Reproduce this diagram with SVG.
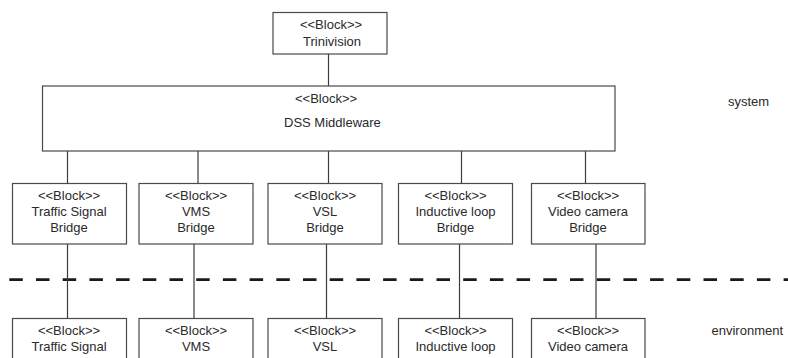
<svg xmlns="http://www.w3.org/2000/svg" width="788" height="358" viewBox="0 0 788 358">
  <style>
    .box { fill: #ffffff; stroke: #4a4a4a; stroke-width: 1.2; }
    .lbl { font-family: "Liberation Sans", Arial, sans-serif; font-size: 13px; fill: #2a2a2a; text-anchor: middle; }
    .side { font-family: "Liberation Sans", Arial, sans-serif; font-size: 13px; fill: #2a2a2a; }
    .wire { stroke: #3c3c3c; stroke-width: 1.2; fill: none; }
    .boundary { stroke: #1a1a1a; stroke-width: 2.8; stroke-dasharray: 13.5 13.2; fill: none; }
  </style>
  <rect width="788" height="358" fill="#ffffff"/>

  <!-- system / environment boundary -->
  <line class="boundary" x1="9.3" y1="279.7" x2="788" y2="279.7"/>

  <!-- connectors -->
  <g id="connectors">
    <line class="wire" x1="328.5" y1="54" x2="328.5" y2="86"/>
    <line class="wire" x1="67.5" y1="151" x2="67.5" y2="183"/>
    <line class="wire" x1="198" y1="151" x2="198" y2="183"/>
    <line class="wire" x1="328.5" y1="151" x2="328.5" y2="183"/>
    <line class="wire" x1="461.5" y1="151" x2="461.5" y2="183"/>
    <line class="wire" x1="585.5" y1="151" x2="585.5" y2="183"/>
    <line class="wire" x1="67.5" y1="244" x2="67.5" y2="318"/>
    <line class="wire" x1="194" y1="244" x2="194" y2="318"/>
    <line class="wire" x1="326.5" y1="244" x2="326.5" y2="318"/>
    <line class="wire" x1="459.5" y1="244" x2="459.5" y2="318"/>
    <line class="wire" x1="596" y1="244" x2="596" y2="318"/>
  </g>

  <g id="trinivision">
    <rect class="box" x="273" y="12.5" width="114" height="41.5"/>
    <text class="lbl" x="331" y="29">&lt;&lt;Block&gt;&gt;</text>
    <text class="lbl" x="332" y="46">Trinivision</text>
  </g>

  <g id="dss-middleware">
    <rect class="box" x="42.5" y="86" width="572.5" height="65"/>
    <text class="side" x="295" y="103">&lt;&lt;Block&gt;&gt;</text>
    <text class="side" x="284" y="126.5">DSS Middleware</text>
  </g>

  <!-- bridges -->
  <g id="traffic-signal-bridge">
    <rect class="box" x="12.5" y="183.5" width="114" height="60.5"/>
    <text class="lbl" x="69" y="200">&lt;&lt;Block&gt;&gt;</text>
    <text class="lbl" x="69" y="216">Traffic Signal</text>
    <text class="lbl" x="69" y="232">Bridge</text>
  </g>
  <g id="vms-bridge">
    <rect class="box" x="139" y="183.5" width="114" height="60.5"/>
    <text class="lbl" x="196" y="200">&lt;&lt;Block&gt;&gt;</text>
    <text class="lbl" x="196" y="216">VMS</text>
    <text class="lbl" x="196" y="232">Bridge</text>
  </g>
  <g id="vsl-bridge">
    <rect class="box" x="268" y="183.5" width="114" height="60.5"/>
    <text class="lbl" x="325" y="200">&lt;&lt;Block&gt;&gt;</text>
    <text class="lbl" x="325" y="216">VSL</text>
    <text class="lbl" x="325" y="232">Bridge</text>
  </g>
  <g id="inductive-loop-bridge">
    <rect class="box" x="398.5" y="183.5" width="114" height="60.5"/>
    <text class="lbl" x="455.5" y="200">&lt;&lt;Block&gt;&gt;</text>
    <text class="lbl" x="455.5" y="216">Inductive loop</text>
    <text class="lbl" x="455.5" y="232">Bridge</text>
  </g>
  <g id="video-camera-bridge">
    <rect class="box" x="531.5" y="183.5" width="113.5" height="60.5"/>
    <text class="lbl" x="588" y="200">&lt;&lt;Block&gt;&gt;</text>
    <text class="lbl" x="588" y="216">Video camera</text>
    <text class="lbl" x="588" y="232">Bridge</text>
  </g>

  <!-- field devices -->
  <g id="traffic-signal">
    <rect class="box" x="12.5" y="318.5" width="114" height="60"/>
    <text class="lbl" x="69" y="335">&lt;&lt;Block&gt;&gt;</text>
    <text class="lbl" x="69" y="351">Traffic Signal</text>
  </g>
  <g id="vms">
    <rect class="box" x="139" y="318.5" width="114" height="60"/>
    <text class="lbl" x="196" y="335">&lt;&lt;Block&gt;&gt;</text>
    <text class="lbl" x="196" y="351">VMS</text>
  </g>
  <g id="vsl">
    <rect class="box" x="268" y="318.5" width="114" height="60"/>
    <text class="lbl" x="325" y="335">&lt;&lt;Block&gt;&gt;</text>
    <text class="lbl" x="325" y="351">VSL</text>
  </g>
  <g id="inductive-loop">
    <rect class="box" x="398.5" y="318.5" width="114" height="60"/>
    <text class="lbl" x="455.5" y="335">&lt;&lt;Block&gt;&gt;</text>
    <text class="lbl" x="455.5" y="351">Inductive loop</text>
  </g>
  <g id="video-camera">
    <rect class="box" x="531.5" y="318.5" width="113.5" height="60"/>
    <text class="lbl" x="588" y="335">&lt;&lt;Block&gt;&gt;</text>
    <text class="lbl" x="588" y="351">Video camera</text>
  </g>

  <text class="side" x="728" y="106">system</text>
  <text class="side" x="711.5" y="335">environment</text>
</svg>
